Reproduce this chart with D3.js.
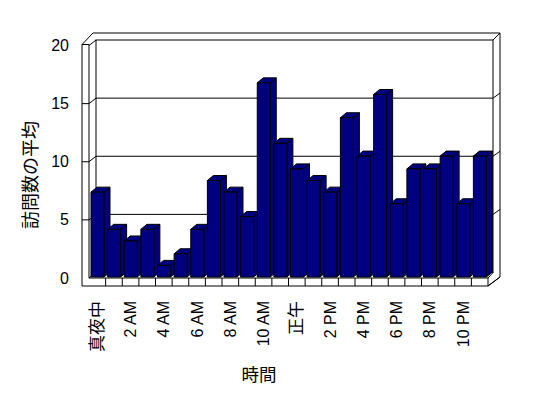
<!DOCTYPE html>
<html>
<head>
<meta charset="utf-8">
<script src="https://cdn.jsdelivr.net/npm/d3@7"></script>
<style>
  body { margin: 0; background: #fff; }
  text { font-family: "Liberation Sans", "Noto Sans CJK JP", sans-serif; fill: #000; }
</style>
</head>
<body>
<script>
// hourly categories, labels shown every 2 hours
const hours = ["真夜中", "1 AM", "2 AM", "3 AM", "4 AM", "5 AM", "6 AM", "7 AM", "8 AM", "9 AM", "10 AM", "11 AM",
  "正午", "1 PM", "2 PM", "3 PM", "4 PM", "5 PM", "6 PM", "7 PM", "8 PM", "9 PM", "10 PM", "11 PM"];
const visits = [7.3, 4.1, 3.1, 4.1, 1.0, 2.0, 4.1, 8.3, 7.3, 5.2, 16.7, 11.5,
  9.3, 8.3, 7.3, 13.7, 10.4, 15.7, 6.3, 9.3, 9.3, 10.4, 6.3, 10.4];
const yTicks = [0, 5, 10, 15, 20];
const xTickLabels = hours.filter((h, i) => i % 2 === 0);
const yTitle = "訪問数の平均";
const xTitle = "時間";

const W = 548, H = 398;
// depth offset of the walls (back plane relative to front plane)
const wdx = 7, wdy = -5.5;
// depth offset of each bar
const bdx = 6, bdy = -5;

const svg = d3.select("body").append("svg")
  .attr("width", W).attr("height", H);

const x = d3.scaleBand().domain(hours).range([89, 488]);
const y = d3.scaleLinear().domain([0, 20]).range([278, 45.5]);
const yb = v => y(v) + wdy;   // back wall

const left = 89, right = 488, back = left + wdx, backR = right + 5;
const floorTop = 278, floorBot = 286;

const g = svg.append("g")
  .attr("fill", "none").attr("stroke", "#000").attr("stroke-width", 1);

// outer silhouette of the walls
g.append("path")
  .attr("fill", "#fff")
  .attr("d", `M82,${floorBot} V${y(20) - 1} L93,33 H500 V277 L${right},${floorBot} Z`);

// back wall
g.append("rect")
  .attr("x", back).attr("y", yb(20))
  .attr("width", backR - back).attr("height", yb(0) - yb(20));

// left wall slab
g.append("path").attr("d", `M82,${y(20) - 1} H${left} V${floorTop}`);
g.append("path").attr("d", `M${left},${y(20)} L${back},${yb(20)}`);
// right wall slab edge
g.append("path").attr("d", `M${backR},${yb(20)} L500,33`);

// floor
g.append("path").attr("d", `M${left},${floorTop} H${right} L${backR},${yb(0)} M${left},${floorTop} L${back},${yb(0)}`);
g.append("path").attr("d", `M${right},${floorBot} V${floorTop}`);
g.append("path").attr("d", `M${right},${floorBot} L500,277`);

// gridlines wrapping around walls
yTicks.filter(v => v > 0 && v < 20).forEach(v => {
  g.append("path").attr("d",
    `M82,${y(v)} H${left} L${back},${yb(v)} H${backR} L500,${yb(v) - 5}`);
});

// category ticks on the floor front
hours.slice(1).forEach(h => {
  g.append("line")
    .attr("x1", x(h)).attr("x2", x(h))
    .attr("y1", floorTop).attr("y2", floorBot);
});

// bars
const bars = svg.append("g")
  .attr("fill", "#000080").attr("stroke", "#000").attr("stroke-width", 1)
  .attr("stroke-linejoin", "round");

hours.forEach((h, i) => {
  const x0 = x(h) + 2, w = 13;
  const top = y(visits[i]) - 1, bot = 277;
  const b = bars.append("g");
  b.append("path").attr("d",
    `M${x0 + w},${top} L${x0 + w + bdx},${top + bdy} V${bot + bdy} L${x0 + w},${bot} Z`);
  b.append("path").attr("d",
    `M${x0},${top} L${x0 + bdx},${top + bdy} H${x0 + w + bdx} L${x0 + w},${top} Z`);
  b.append("rect").attr("x", x0).attr("y", top).attr("width", w).attr("height", bot - top);
});

// y tick labels
svg.append("g").selectAll("text")
  .data(yTicks)
  .join("text")
  .attr("x", 69).attr("y", d => y(d))
  .attr("text-anchor", "end")
  .attr("dominant-baseline", "central")
  .style("font-size", "16px")
  .text(d => d);

// x tick labels, rotated
svg.append("g").selectAll("text")
  .data(xTickLabels)
  .join("text")
  .attr("transform", d => `translate(${x(d) + x.bandwidth() / 2},301) rotate(-90)`)
  .attr("text-anchor", "end")
  .attr("dominant-baseline", "central")
  .style("font-size", d => /^[\x00-\x7f]+$/.test(d) ? "16px" : "17px")
  .text(d => d);

// axis titles
svg.append("text")
  .attr("transform", "translate(31,175) rotate(-90)")
  .attr("text-anchor", "middle")
  .attr("dominant-baseline", "central")
  .style("font-size", "18px")
  .text(yTitle);

svg.append("text")
  .attr("x", 259).attr("y", 375)
  .attr("text-anchor", "middle")
  .attr("dominant-baseline", "central")
  .style("font-size", "17.5px")
  .text(xTitle);
</script>
</body>
</html>
